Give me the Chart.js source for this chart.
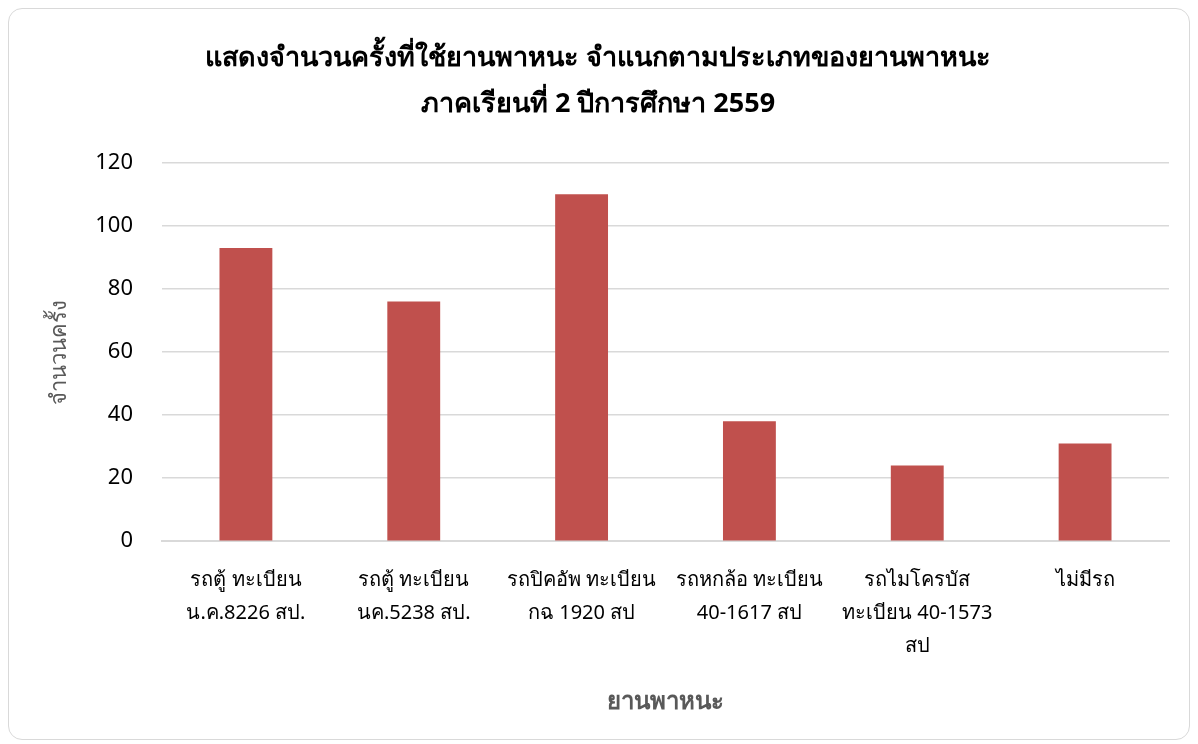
<!DOCTYPE html>
<html>
<head>
<meta charset="utf-8">
<script src="https://cdn.jsdelivr.net/npm/chart.js@4"></script>
<style>
    body { margin: 0; background: #fff; }
    #box {
        position: absolute; left: 8px; top: 8px;
        width: 1180px; height: 730px;
        border: 1px solid #d9d9d9; border-radius: 14px;
        background: #fff;
    }
</style>
</head>
<body>
<div id="box"><canvas id="barChart" width="1180" height="730"></canvas></div>
<script>
// Chart data
const categories = [
    ['รถตู้ ทะเบียน', 'น.ค.8226 สป.'],
    ['รถตู้ ทะเบียน', 'นค.5238 สป.'],
    ['รถปิคอัพ ทะเบียน', 'กฉ 1920 สป'],
    ['รถหกล้อ ทะเบียน', '40-1617 สป'],
    ['รถไมโครบัส', 'ทะเบียน 40-1573', 'สป'],
    ['ไม่มีรถ']
];
const tripCounts = [93, 76, 110, 38, 24, 31];
const titleLines = [
    'แสดงจำนวนครั้งที่ใช้ยานพาหนะ จำแนกตามประเภทของยานพาหนะ',
    'ภาคเรียนที่ 2 ปีการศึกษา 2559'
];

const fontFamily = "'Noto Sans', 'DejaVu Sans', sans-serif";

function initializeChart() {
    const ctx = document.getElementById('barChart').getContext('2d');
    new Chart(ctx, {
        type: 'bar',
        data: {
            labels: categories,
            datasets: [{
                label: 'จำนวนครั้ง',
                data: tripCounts,
                backgroundColor: '#c0504d',
                borderWidth: 0,
                barPercentage: 0.63,
                categoryPercentage: 0.5
            }]
        },
        options: {
            responsive: false,
            animation: false,
            layout: { padding: { left: 18, right: 20, top: 10, bottom: 18 } },
            plugins: {
                legend: { display: false },
                tooltip: { enabled: false },
                title: {
                    display: true,
                    text: titleLines,
                    color: '#000',
                    font: { family: fontFamily, size: 27, weight: 'bold', lineHeight: 1.7 },
                    padding: { top: 16, bottom: 36 }
                }
            },
            scales: {
                x: {
                    grid: { display: false, drawTicks: false },
                    border: { color: '#d9d9d9', width: 2 },
                    ticks: {
                        color: '#000',
                        font: { family: fontFamily, size: 20, lineHeight: 1.65 },
                        padding: 23,
                        maxRotation: 0,
                        autoSkip: false
                    },
                    title: {
                        display: true,
                        text: 'ยานพาหนะ',
                        color: '#595959',
                        font: { family: fontFamily, size: 24, weight: 'bold' },
                        padding: { top: 2, bottom: 4 }
                    }
                },
                y: {
                    min: 0,
                    max: 120,
                    afterFit: function(scale) {
                        scale.width = 135;
                    },
                    grid: { color: '#d9d9d9', lineWidth: 1.5, drawTicks: false },
                    border: { display: false },
                    ticks: {
                        stepSize: 20,
                        color: '#000',
                        font: { family: fontFamily, size: 22 },
                        padding: 29
                    },
                    title: {
                        display: true,
                        text: 'จำนวนครั้ง',
                        color: '#595959',
                        font: { family: fontFamily, size: 22 },
                        padding: { top: 20, bottom: 0 }
                    }
                }
            }
        }
    });
}

window.onload = initializeChart;
</script>
</body>
</html>
